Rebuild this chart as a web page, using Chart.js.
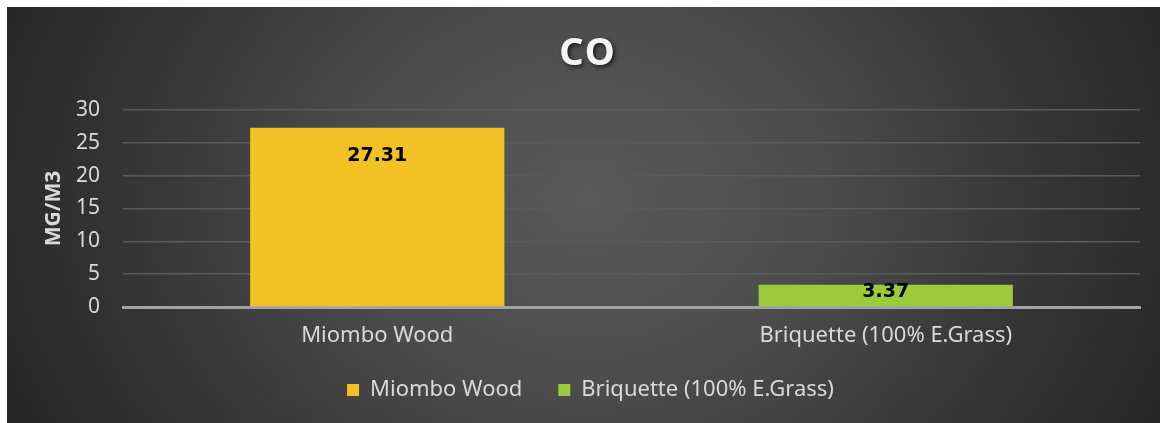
<!DOCTYPE html>
<html>
<head>
<meta charset="utf-8">
<script src="https://cdn.jsdelivr.net/npm/chart.js@4/dist/chart.umd.min.js"></script>
<style>
  html, body { margin: 0; padding: 0; background: #fff; }
  .panel {
    position: absolute; left: 7px; top: 7px; width: 1153px; height: 416px;
    background: radial-gradient(ellipse 640px 520px at 580px 190px, #595959 0%, #4d4d4d 35%, #353535 72%, #262626 100%);
  }
</style>
</head>
<body>
<div class="panel"><canvas id="co"></canvas></div>
<script>
const TITLE = 'CO';
const categories = ['Miombo Wood', 'Briquette (100% E.Grass)'];
const values = [27.31, 3.37];
const barColors = ['#F2C124', '#9BCA3C'];
const yTicks = [0, 5, 10, 15, 20, 25, 30];
const yTitle = 'MG/M3';

const FONT = "'Noto Sans', sans-serif";
const TEXT = '#d9d9d9';

// big centred title with a soft shadow
const titlePlugin = {
  id: 'shadowTitle',
  afterDraw(chart) {
    const ctx = chart.ctx;
    ctx.save();
    ctx.font = `bold 38px ${FONT}`;
    ctx.letterSpacing = '2px';
    ctx.fillStyle = '#f4f4f4';
    ctx.textAlign = 'center';
    ctx.textBaseline = 'middle';
    ctx.shadowColor = 'rgba(0,0,0,0.65)';
    ctx.shadowBlur = 4;
    ctx.shadowOffsetX = 2;
    ctx.shadowOffsetY = 2;
    ctx.fillText(TITLE, 581, 47);
    ctx.restore();
  }
};

// value printed just inside the top of each bar
const valueLabels = {
  id: 'valueLabels',
  afterDatasetsDraw(chart) {
    const ctx = chart.ctx;
    const base = chart.scales.y.getPixelForValue(0);
    ctx.save();
    ctx.font = "bold 19px 'DejaVu Sans', sans-serif";
    ctx.fillStyle = '#000';
    ctx.textAlign = 'center';
    ctx.textBaseline = 'middle';
    chart.getDatasetMeta(0).data.forEach((bar, i) => {
      const y = Math.min(bar.y + 28, base - 15);
      ctx.fillText(values[i].toFixed(2), bar.x, y);
    });
    ctx.restore();
  }
};

// legend sits a little right of centre and a bit higher
const legendNudge = {
  id: 'legendNudge',
  afterLayout(chart) {
    const lg = chart.legend;
    lg.left += 17;
    lg.right += 17;
    lg.top -= 7;
    lg.bottom -= 7;
  }
};

new Chart(document.getElementById('co'), {
  type: 'bar',
  data: {
    labels: categories,
    datasets: [{
      data: values,
      backgroundColor: barColors,
      borderWidth: 0,
      barPercentage: 0.5,
      categoryPercentage: 1.0
    }]
  },
  options: {
    responsive: true,
    maintainAspectRatio: false,
    animation: false,
    layout: { padding: { left: 0, right: 20, top: 103, bottom: 5 } },
    plugins: {
      title: { display: false },
      tooltip: { enabled: false },
      legend: {
        position: 'bottom',
        onClick: null,
        labels: {
          boxWidth: 12,
          boxHeight: 12,
          padding: 36,
          color: TEXT,
          font: { family: FONT, size: 22 },
          generateLabels: () => categories.map((c, i) => ({
            text: c,
            fillStyle: barColors[i],
            strokeStyle: barColors[i],
            fontColor: TEXT,
            lineWidth: 0,
            hidden: false,
            index: i
          }))
        }
      }
    },
    scales: {
      x: {
        grid: { display: false, drawTicks: false },
        border: { display: true, color: '#a3a3a3', width: 3 },
        ticks: { color: TEXT, font: { family: FONT, size: 22 }, padding: 16 },
        afterFit: s => { s.height = 43; }
      },
      y: {
        min: 0,
        max: 30,
        afterBuildTicks: s => { s.ticks = yTicks.map(v => ({ value: v })); },
        grid: { color: '#5a5a5a', lineWidth: 1.5, drawTicks: false },
        border: { display: false },
        ticks: { color: TEXT, font: { family: FONT, size: 21 }, padding: 23 },
        title: {
          display: true,
          text: yTitle,
          color: TEXT,
          font: { family: FONT, size: 21, weight: 'bold' },
          padding: { top: 34 }
        },
        afterFit: s => { s.width = 116; }
      }
    }
  },
  plugins: [titlePlugin, valueLabels, legendNudge]
});
</script>
</body>
</html>
